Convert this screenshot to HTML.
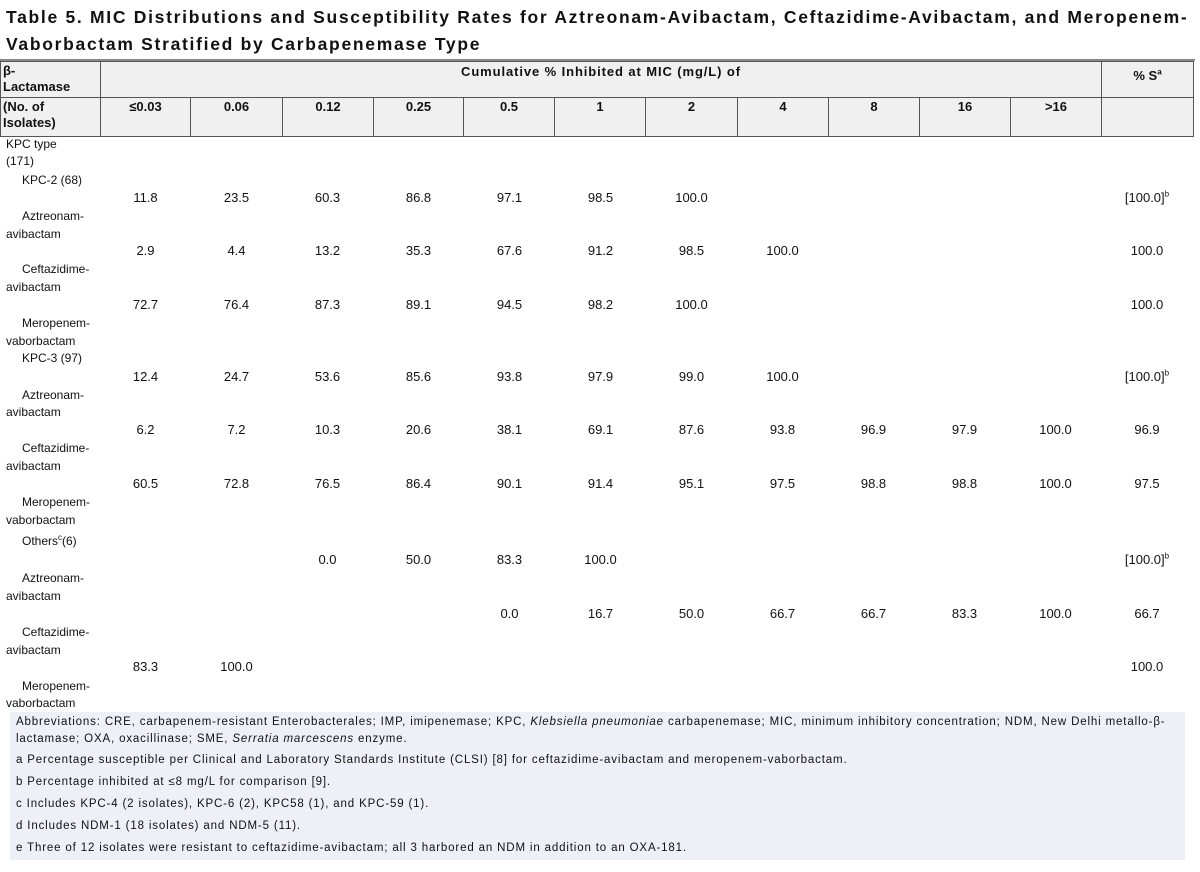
<!DOCTYPE html>
<html><head><meta charset="utf-8"><style>
body{margin:0;width:1200px;height:872px;background:#fff;font-family:"Liberation Sans",Arial,sans-serif;color:#111;position:relative;overflow:hidden}
.t{position:absolute;left:6px;font-weight:bold;font-size:17.5px;line-height:20px;letter-spacing:1.7px;white-space:nowrap}
.a{position:absolute;font-size:12px;line-height:16px;white-space:nowrap}
.r{position:absolute;left:0;height:16px;font-size:13px;line-height:16px;display:flex}
.r span{display:block;width:91px;text-align:center}
.r span:first-child{width:100px}
.r span:last-child{width:92px}
.hd{position:absolute;background:#f0f0f0;border:1px solid #555;box-sizing:border-box;font-weight:bold;font-size:13px;line-height:16px}
.fn{position:absolute;left:10px;top:712px;width:1175px;height:148px;background:#eef0f8;font-size:11.5px;color:#111;letter-spacing:0.85px}
.fn div{position:absolute;left:6px;line-height:15px;white-space:nowrap}
sup{font-size:8px;line-height:0}
</style></head><body>
<div class="t" style="top:7px">Table 5. MIC Distributions and Susceptibility Rates for Aztreonam-Avibactam, Ceftazidime-Avibactam, and Meropenem-</div>
<div class="t" style="top:34px">Vaborbactam Stratified by Carbapenemase Type</div>
<div style="position:absolute;left:0;top:59px;width:1195px;height:2px;background:#888"></div>
<div class="hd" style="left:0;top:61px;width:101px;height:37px;padding:1px 2px">β-<br>Lactamase</div>
<div class="hd" style="left:100px;top:61px;width:1002px;height:37px;text-align:center;padding-top:2px;letter-spacing:0.9px">Cumulative % Inhibited at MIC (mg/L) of</div>
<div class="hd" style="left:1101px;top:61px;width:93px;height:37px;text-align:center;padding-top:6px">% S<sup>a</sup></div>
<div class="hd" style="left:0;top:97px;width:101px;height:40px;padding:1px 2px">(No. of<br>Isolates)</div>
<div class="hd" style="left:100px;top:97px;width:91px;height:40px;text-align:center;padding-top:1px">≤0.03</div>
<div class="hd" style="left:190px;top:97px;width:93px;height:40px;text-align:center;padding-top:1px">0.06</div>
<div class="hd" style="left:282px;top:97px;width:92px;height:40px;text-align:center;padding-top:1px">0.12</div>
<div class="hd" style="left:373px;top:97px;width:91px;height:40px;text-align:center;padding-top:1px">0.25</div>
<div class="hd" style="left:463px;top:97px;width:92px;height:40px;text-align:center;padding-top:1px">0.5</div>
<div class="hd" style="left:554px;top:97px;width:92px;height:40px;text-align:center;padding-top:1px">1</div>
<div class="hd" style="left:645px;top:97px;width:93px;height:40px;text-align:center;padding-top:1px">2</div>
<div class="hd" style="left:737px;top:97px;width:92px;height:40px;text-align:center;padding-top:1px">4</div>
<div class="hd" style="left:828px;top:97px;width:92px;height:40px;text-align:center;padding-top:1px">8</div>
<div class="hd" style="left:919px;top:97px;width:92px;height:40px;text-align:center;padding-top:1px">16</div>
<div class="hd" style="left:1010px;top:97px;width:92px;height:40px;text-align:center;padding-top:1px">&gt;16</div>
<div class="hd" style="left:1101px;top:97px;width:93px;height:40px"></div>

<div class="a" style="left:6px;top:136px">KPC type</div>
<div class="a" style="left:6px;top:153px">(171)</div>
<div class="a" style="left:22px;top:172px">KPC-2 (68)</div>
<div class="r" style="top:190px"><span></span><span>11.8</span><span>23.5</span><span>60.3</span><span>86.8</span><span>97.1</span><span>98.5</span><span>100.0</span><span></span><span></span><span></span><span></span><span>[100.0]<sup>b</sup></span></div>
<div class="a" style="left:22px;top:208px">Aztreonam-</div>
<div class="a" style="left:6px;top:226px">avibactam</div>
<div class="r" style="top:243px"><span></span><span>2.9</span><span>4.4</span><span>13.2</span><span>35.3</span><span>67.6</span><span>91.2</span><span>98.5</span><span>100.0</span><span></span><span></span><span></span><span>100.0</span></div>
<div class="a" style="left:22px;top:261px">Ceftazidime-</div>
<div class="a" style="left:6px;top:279px">avibactam</div>
<div class="r" style="top:297px"><span></span><span>72.7</span><span>76.4</span><span>87.3</span><span>89.1</span><span>94.5</span><span>98.2</span><span>100.0</span><span></span><span></span><span></span><span></span><span>100.0</span></div>
<div class="a" style="left:22px;top:315px">Meropenem-</div>
<div class="a" style="left:6px;top:333px">vaborbactam</div>
<div class="a" style="left:22px;top:350px">KPC-3 (97)</div>
<div class="r" style="top:369px"><span></span><span>12.4</span><span>24.7</span><span>53.6</span><span>85.6</span><span>93.8</span><span>97.9</span><span>99.0</span><span>100.0</span><span></span><span></span><span></span><span>[100.0]<sup>b</sup></span></div>
<div class="a" style="left:22px;top:387px">Aztreonam-</div>
<div class="a" style="left:6px;top:404px">avibactam</div>
<div class="r" style="top:422px"><span></span><span>6.2</span><span>7.2</span><span>10.3</span><span>20.6</span><span>38.1</span><span>69.1</span><span>87.6</span><span>93.8</span><span>96.9</span><span>97.9</span><span>100.0</span><span>96.9</span></div>
<div class="a" style="left:22px;top:440px">Ceftazidime-</div>
<div class="a" style="left:6px;top:458px">avibactam</div>
<div class="r" style="top:476px"><span></span><span>60.5</span><span>72.8</span><span>76.5</span><span>86.4</span><span>90.1</span><span>91.4</span><span>95.1</span><span>97.5</span><span>98.8</span><span>98.8</span><span>100.0</span><span>97.5</span></div>
<div class="a" style="left:22px;top:494px">Meropenem-</div>
<div class="a" style="left:6px;top:512px">vaborbactam</div>
<div class="a" style="left:22px;top:533px">Others<sup>c</sup>(6)</div>
<div class="r" style="top:552px"><span></span><span></span><span></span><span>0.0</span><span>50.0</span><span>83.3</span><span>100.0</span><span></span><span></span><span></span><span></span><span></span><span>[100.0]<sup>b</sup></span></div>
<div class="a" style="left:22px;top:570px">Aztreonam-</div>
<div class="a" style="left:6px;top:588px">avibactam</div>
<div class="r" style="top:606px"><span></span><span></span><span></span><span></span><span></span><span>0.0</span><span>16.7</span><span>50.0</span><span>66.7</span><span>66.7</span><span>83.3</span><span>100.0</span><span>66.7</span></div>
<div class="a" style="left:22px;top:624px">Ceftazidime-</div>
<div class="a" style="left:6px;top:642px">avibactam</div>
<div class="r" style="top:659px"><span></span><span>83.3</span><span>100.0</span><span></span><span></span><span></span><span></span><span></span><span></span><span></span><span></span><span></span><span>100.0</span></div>
<div class="a" style="left:22px;top:678px">Meropenem-</div>
<div class="a" style="left:6px;top:695px">vaborbactam</div>

<div class="fn">
<div style="top:3px">Abbreviations: CRE, carbapenem-resistant Enterobacterales; IMP, imipenemase; KPC, <i>Klebsiella pneumoniae</i> carbapenemase; MIC, minimum inhibitory concentration; NDM, New Delhi metallo-β-</div>
<div style="top:20px">lactamase; OXA, oxacillinase; SME, <i>Serratia marcescens</i> enzyme.</div>
<div style="top:41px">a Percentage susceptible per Clinical and Laboratory Standards Institute (CLSI) [8] for ceftazidime-avibactam and meropenem-vaborbactam.</div>
<div style="top:63px">b Percentage inhibited at ≤8 mg/L for comparison [9].</div>
<div style="top:85px">c Includes KPC-4 (2 isolates), KPC-6 (2), KPC58 (1), and KPC-59 (1).</div>
<div style="top:107px">d Includes NDM-1 (18 isolates) and NDM-5 (11).</div>
<div style="top:129px">e Three of 12 isolates were resistant to ceftazidime-avibactam; all 3 harbored an NDM in addition to an OXA-181.</div>
</div>
</body></html>
